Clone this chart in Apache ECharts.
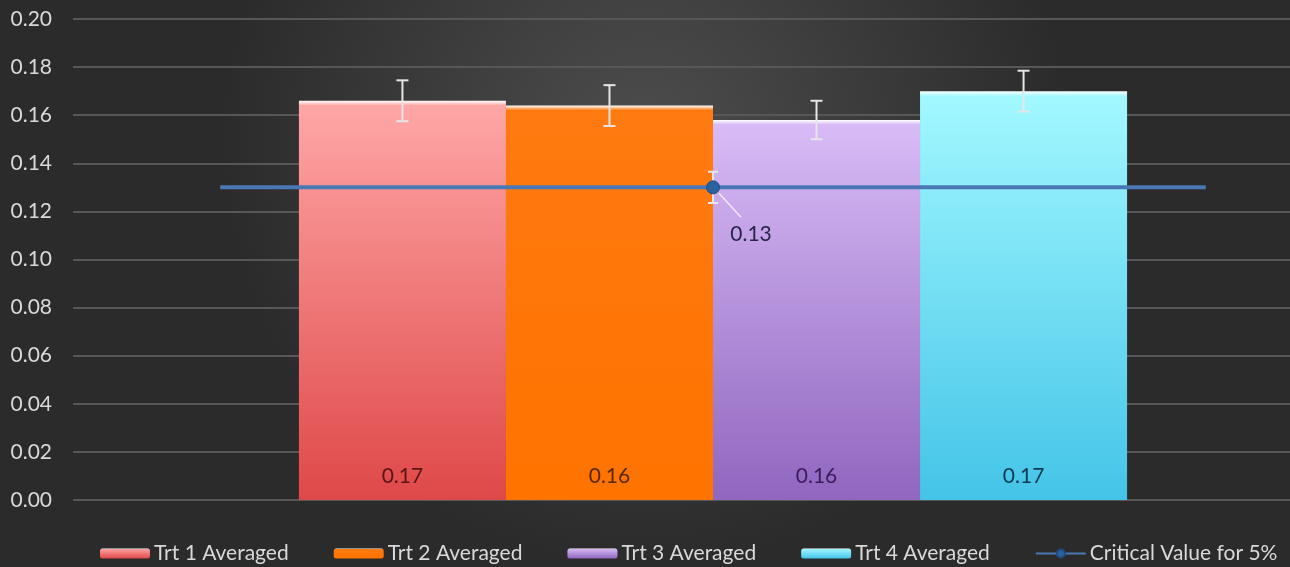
<!DOCTYPE html>
<html>
<head>
<meta charset="utf-8">
<script src="https://cdn.jsdelivr.net/npm/echarts@6/dist/echarts.min.js"></script>
<style>
  html, body { margin: 0; padding: 0; background: #333; }
  #chart { width: 1290px; height: 567px; }
</style>
</head>
<body>
<div id="chart"></div>
<script>
// data
const categories = [""];
const seriesNames = ["Trt 1 Averaged", "Trt 2 Averaged", "Trt 3 Averaged", "Trt 4 Averaged"];
const barValues = [0.166, 0.164, 0.158, 0.170];
const barErrors = [0.0085, 0.0085, 0.008, 0.0085];
const criticalName = "Critical Value for 5%";
const criticalValue = [0.13];
const criticalError = [0.0065];
const criticalSpread = 0.385; // horizontal error bar, in category widths
const yMin = 0, yMax = 0.2, yStep = 0.02;

const barTops = ["#ffa6a6", "#ff7a10", "#d8bbf6", "#a2f8ff"];
const barBottoms = ["#df4848", "#ff7300", "#9066bf", "#44c4e8"];
const labelColors = ["#5a1414", "#5a2800", "#3a1c5c", "#0c3a52"];

const FONT = "Lato";
const GAP = 0.353;

const chart = echarts.init(document.getElementById("chart"));

function grad(top, bottom) {
  return new echarts.graphic.LinearGradient(0, 0, 0, 1, [
    { offset: 0, color: "#ffffff" },
    { offset: 0.012, color: top },
    { offset: 1, color: bottom }
  ]);
}

const barSeries = seriesNames.map((name, i) => ({
  name: name,
  type: "bar",
  data: [barValues[i]],
  barGap: "0%",
  barCategoryGap: (GAP * 100) + "%",
  itemStyle: { color: grad(barTops[i], barBottoms[i]) },
  label: {
    show: true,
    position: "insideBottom",
    distance: 13,
    formatter: p => p.value.toFixed(2),
    color: labelColors[i],
    fontSize: 21,
    fontFamily: FONT
  },
  z: 2
}));

const errorSeries = {
  type: "custom",
  name: "errors",
  data: barValues.map((v, i) => [0, v, barErrors[i], i]),
  z: 5,
  renderItem: function (params, api) {
    const v = api.value(1), e = api.value(2), i = api.value(3);
    const band = api.size([1, 0])[0];
    const bw = band * (1 - GAP) / seriesNames.length;
    const x = api.coord([0, v])[0] + (i - (seriesNames.length - 1) / 2) * bw;
    const yt = api.coord([0, v + e])[1];
    const yb = api.coord([0, v - e])[1];
    const style = { stroke: "#e6e6e6", lineWidth: 2 };
    return {
      type: "group",
      children: [
        { type: "line", shape: { x1: x, y1: yt, x2: x, y2: yb }, style: style },
        { type: "line", shape: { x1: x - 6, y1: yt, x2: x + 6, y2: yt }, style: style },
        { type: "line", shape: { x1: x - 6, y1: yb, x2: x + 6, y2: yb }, style: style }
      ]
    };
  }
};

const criticalLine = {
  type: "custom",
  name: "critical line",
  data: criticalValue.map((v, i) => [0, v, criticalError[i]]),
  z: 6,
  renderItem: function (params, api) {
    const v = api.value(1), e = api.value(2);
    const band = api.size([1, 0])[0];
    const c = api.coord([0, v]);
    const yt = api.coord([0, v + e])[1];
    const yb = api.coord([0, v - e])[1];
    const w = { stroke: "#e6e6e6", lineWidth: 2 };
    return {
      type: "group",
      children: [
        { type: "line", shape: { x1: c[0] - criticalSpread * band, y1: c[1], x2: c[0] + criticalSpread * band, y2: c[1] },
          style: { stroke: "#4a78b4", lineWidth: 4 } },
        { type: "line", shape: { x1: c[0], y1: yt, x2: c[0], y2: yb }, style: w },
        { type: "line", shape: { x1: c[0] - 5, y1: yt, x2: c[0] + 5, y2: yt }, style: w },
        { type: "line", shape: { x1: c[0] - 5, y1: yb, x2: c[0] + 5, y2: yb }, style: w },
        { type: "line", shape: { x1: c[0] + 6, y1: c[1] + 6, x2: c[0] + 28, y2: c[1] + 30 },
          style: { stroke: "rgba(255,255,255,0.75)", lineWidth: 1.5 } }
      ]
    };
  }
};

const criticalSeries = {
  name: criticalName,
  type: "line",
  data: criticalValue,
  symbol: "circle",
  symbolSize: 13,
  itemStyle: { color: "#2a62a0", borderColor: "#1d4c80", borderWidth: 1 },
  lineStyle: { color: "#4a78b4", width: 4 },
  label: {
    show: true,
    position: "inside",
    offset: [38, 47],
    formatter: p => p.value.toFixed(2),
    color: "#26264a",
    fontSize: 21,
    fontFamily: FONT
  },
  z: 8
};

chart.setOption({
  backgroundColor: new echarts.graphic.RadialGradient(0.5, 0.25, 0.75, [
    { offset: 0, color: "#4d4d4d" },
    { offset: 1, color: "#2b2b2b" }
  ]),
  animation: false,
  textStyle: { fontFamily: FONT },
  grid: { left: 73, top: 19, width: 1280, height: 481, outerBoundsMode: "none" },
  legend: {
    data: seriesNames.concat([criticalName]),
    left: 100,
    top: 543,
    padding: 0,
    itemWidth: 50,
    itemHeight: 10,
    itemGap: 45,
    textStyle: { color: "#d9d9d9", fontSize: 21, fontFamily: FONT, padding: [0, 0, 0, -1] }
  },
  xAxis: {
    type: "category",
    data: categories,
    axisLine: { show: false },
    axisTick: { show: false },
    axisLabel: { show: false }
  },
  yAxis: {
    type: "value",
    min: yMin,
    max: yMax,
    interval: yStep,
    axisLine: { show: false },
    axisTick: { show: false },
    axisLabel: {
      formatter: v => v.toFixed(2),
      color: "#d9d9d9",
      fontSize: 21,
      fontFamily: FONT,
      margin: 21
    },
    splitLine: { lineStyle: { color: "#575757", width: 2 } }
  },
  series: barSeries.concat([errorSeries, criticalLine, criticalSeries])
});
</script>
</body>
</html>
